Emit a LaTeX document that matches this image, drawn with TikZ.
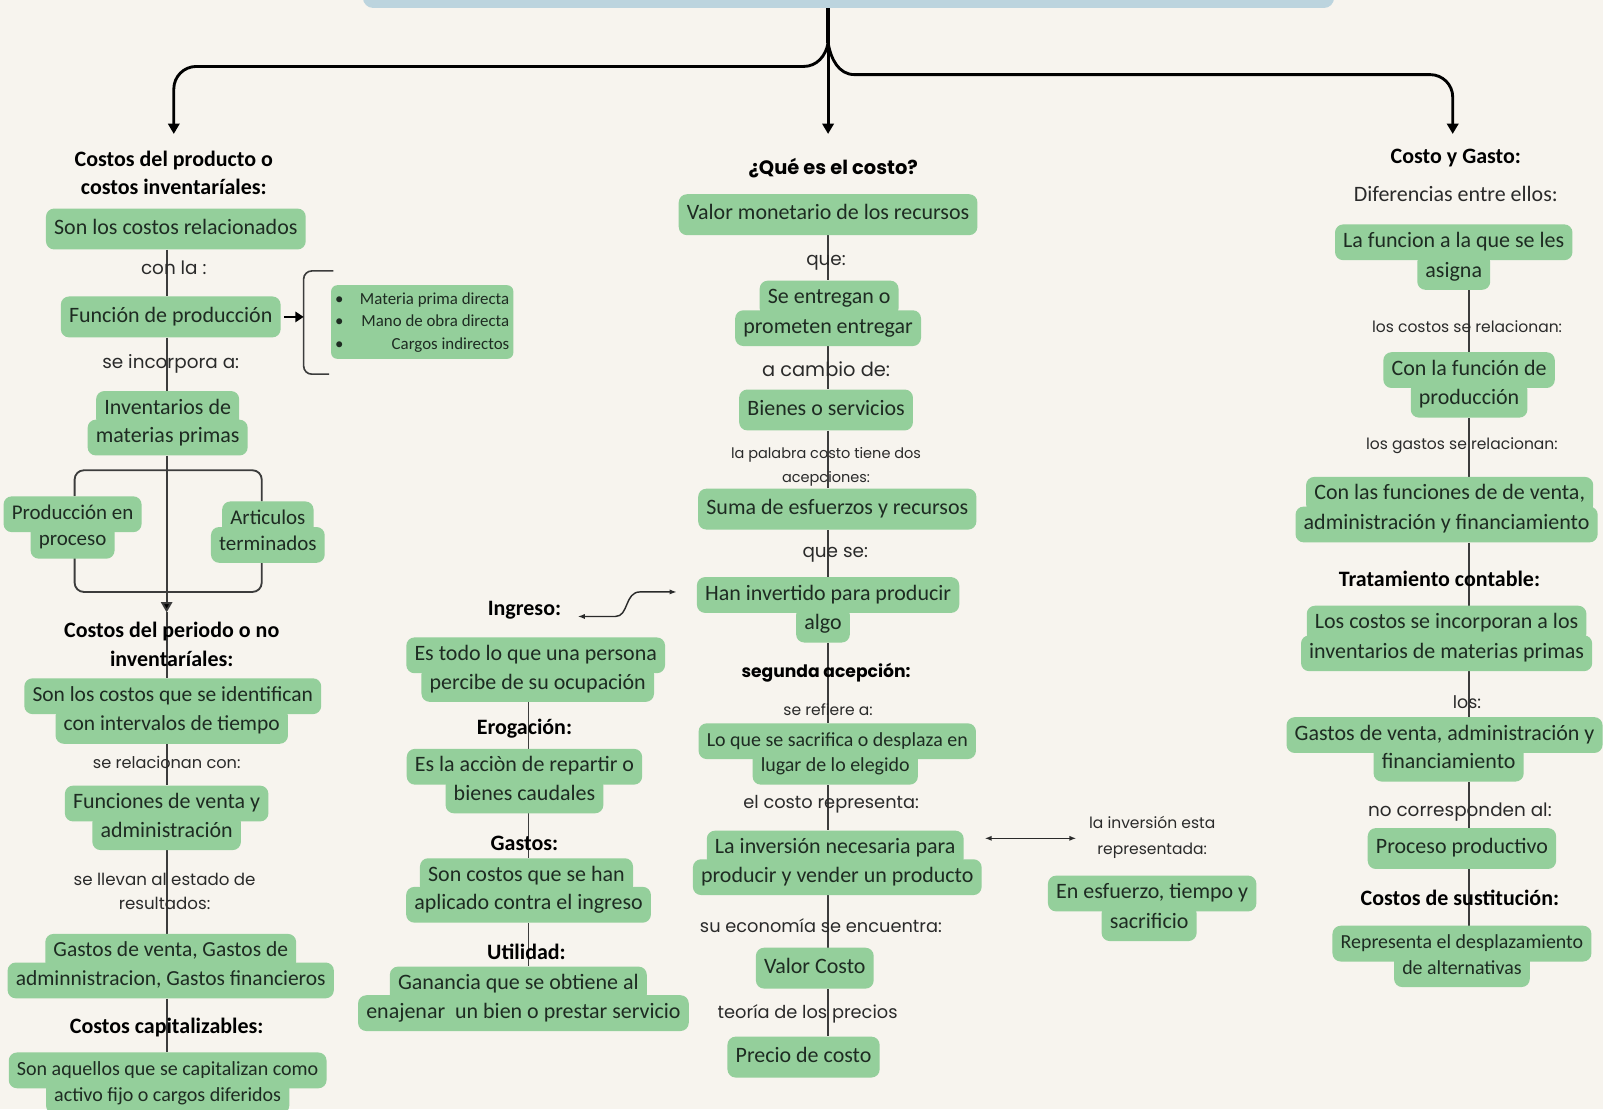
\documentclass[tikz,border=0pt]{standalone}
\usepackage{fontspec}
\setmainfont{Carlito}
\newfontfamily\pop{Poppins}
\usetikzlibrary{arrows.meta}
\definecolor{bgc}{HTML}{F7F4EE}
\definecolor{gr}{HTML}{94CF9B}
\definecolor{barb}{HTML}{BCD4DE}
\definecolor{ink}{HTML}{2A2A2A}
\definecolor{txt}{HTML}{1E2B22}
\definecolor{lc}{HTML}{3C3C3C}
\pgfdeclarelayer{bg}
\pgfsetlayers{bg,main}
\tikzset{
  bx/.style={fill=gr, rounded corners=8pt, inner xsep=8pt, inner ysep=0pt, minimum height=40pt,
    text height=15pt, text depth=5pt, font=\fontsize{21.5}{24}\selectfont, text=txt},
  bl/.style={bx, minimum height=35pt},
  bfs/.style={font=\fontsize{#1}{#1}\selectfont},
  lab/.style={font=\pop\fontsize{#1}{#1}\selectfont, text=ink, inner sep=0pt, align=center},
  hd/.style={font=\bfseries\fontsize{21.5}{28}\selectfont, text=black, inner sep=0pt, align=center},
  hdp/.style={font=\pop\bfseries\fontsize{#1}{#1}\selectfont, text=black, inner sep=0pt, align=center},
  col/.style={draw=lc, line width=1.8pt},
  br/.style={draw=black, line width=2.8pt},
  tip/.style={-{Triangle[width=11pt,length=10pt]}},
  sa/.style={draw=ink, line width=1.4pt},
}
\begin{document}
\begin{tikzpicture}[x=1pt,y=-1pt]
\useasboundingbox (0,0) rectangle (1568,1085);
\begin{pgfonlayer}{bg}
\fill[bgc] (0,0) rectangle (1568,1085);
\end{pgfonlayer}

% title bar
\node[fill=barb, rounded corners=10pt, minimum width=950pt, minimum height=40pt, anchor=south, inner sep=0pt] (title) at (830,8) {};

% ---------- left column ----------
\node[hd] (h1) at (170,169) {Costos del producto o\\costos inventaríales:};
\node[bx] (son) at (172,224) {Son los costos relacionados};
\node[lab=18] (l1) at (170,262) {con la :};
\node[bx] (func) at (167,310) {Función de producción};
\node[fill=gr, rounded corners=6pt, inner xsep=4pt, inner ysep=3pt, font=\fontsize{16.5}{22}\selectfont, text=txt] (list) at (413,315)
  {\begin{tabular}{@{}l@{\hspace{16pt}}r@{}}\textbullet & Materia prima directa\\ \textbullet & Mano de obra directa\\ \textbullet & Cargos indirectos\end{tabular}};
\node[lab=18] (l2) at (167,356) {se incorpora a:};
\node[bl] (inv1) at (164,400) {Inventarios de};
\node[bl] (inv2) at (164,428) {materias primas};
\node[bl,bfs=20.5] (prod1) at (71,503) {Producción en};
\node[bl,bfs=20.5] (prod2) at (71,529) {proceso};
\node[bl,bfs=20.5] (art1) at (262,508) {Articulos};
\node[bl,bfs=20.5] (art2) at (262,533) {terminados};
\node[hd] (h2) at (168,630) {Costos del periodo o no\\inventaríales:};
\node[bl,bfs=21] (id1) at (169,681) {Son los costos que se identifican};
\node[bl,bfs=21] (id2) at (168,710) {con intervalos de tiempo};
\node[lab=15.8] (l3) at (163,746) {se relacionan con:};
\node[bl] (fv1) at (163,786) {Funciones de venta y};
\node[bl] (fv2) at (163,814) {administración};
\node[lab=16.3] (l4) at (161,872) {se llevan al estado de\\[7.7pt]resultados:};
\node[bl,bfs=21] (gv1) at (167,931) {Gastos de venta, Gastos de};
\node[bl,bfs=21] (gv2) at (167,959) {adminnistracion, Gastos financieros};
\node[hd] (h3) at (163,1005) {Costos capitalizables:};
\node[bl,bfs=19.6] (cap1) at (164,1047) {Son aquellos que se capitalizan como};
\node[bl,bfs=19.6] (cap2) at (164,1072) {activo fijo o cargos diferidos};

% ---------- middle-left column ----------
\node[hd] (h4) at (513,597) {Ingreso:};
\node[bl] (pe1) at (524,641) {Es todo lo que una persona};
\node[bl] (pe2) at (526,669) {percibe de su ocupación};
\node[hd] (h5) at (513,713) {Erogación:};
\node[bl] (ac1) at (513,750) {Es la acciòn de repartir o};
\node[bl] (ac2) at (513,778) {bienes caudales};
\node[hd] (h6) at (513,825) {Gastos:};
\node[bl] (sc1) at (515,857) {Son costos que se han};
\node[bl] (sc2) at (517,885) {aplicado contra el ingreso};
\node[hd] (h7) at (515,931) {Utilidad:};
\node[bl] (ga1) at (507,963) {Ganancia que se obtiene al};
\node[bl] (ga2) at (512,991) {enajenar\ \ un bien o prestar servicio};

% ---------- center column ----------
\node[hdp=19] (h8) at (815,164) {¿Qué es el costo?};
\node[bx] (va) at (810,210) {Valor monetario de los recursos};
\node[lab=18] (l5) at (808,257) {que:};
\node[bl] (en1) at (811,292) {Se entregan o};
\node[bl] (en2) at (810,321) {prometen entregar};
\node[lab=19] (l6) at (808,361) {a cambio de:};
\node[bx] (bi) at (808,401) {Bienes o servicios};
\node[lab=14.2] (l7) at (808,457) {la palabra costo tiene dos\\[7.8pt]acepciones:};
\node[bx] (su) at (819,498) {Suma de esfuerzos y recursos};
\node[lab=18] (l8) at (817,543) {que se:};
\node[bl] (ha1) at (810,582) {Han invertido para producir};
\node[bl] (ha2) at (805,611) {algo};
\node[hdp=16.8] (h9) at (808,658) {segunda acepción:};
\node[lab=15.2] (l9) at (810,694) {se refiere a:};
\node[bl,bfs=19.5] (lo1) at (819,725) {Lo que se sacrifica o desplaza en};
\node[bl,bfs=19.5] (lo2) at (817,750) {lugar de lo elegido};
\node[lab=17.4] (l10) at (813,787) {el costo representa:};
\node[bl] (in1) at (817,830) {La inversión necesaria para};
\node[bl] (in2) at (819,858) {producir y vender un producto};
\node[lab=15.2] (l11) at (1127,819) {la inversión esta\\[9.8pt]representada:};
\node[bl] (es1) at (1127,874) {En esfuerzo, tiempo y};
\node[bl] (es2) at (1124,903) {sacrificio};
\node[lab=17.4] (l12) at (803,905) {su economía se encuentra:};
\node[bx] (vc) at (797,947) {Valor Costo};
\node[lab=17.4] (l13) at (790,992) {teoría de los precios};
\node[bx] (pc) at (786,1034) {Precio de costo};

% ---------- right column ----------
\node[hd] (h10) at (1424,155) {Costo y Gasto:};
\node[font=\fontsize{21.5}{21.5}\selectfont, text=ink, inner sep=0pt] (dif) at (1424,190) {Diferencias entre ellos:};
\node[bl] (lf1) at (1422,237) {La funcion a la que se les};
\node[bl] (lf2) at (1422,266) {asigna};
\node[lab=15.2] (l14) at (1435,320) {los costos se relacionan:};
\node[bl] (cf1) at (1437,362) {Con la función de};
\node[bl] (cf2) at (1437,391) {producción};
\node[lab=15.2] (l15) at (1430,436) {los gastos se relacionan:};
\node[bl] (cv1) at (1418,484) {Con las funciones de de venta,};
\node[bl] (cv2) at (1415,513) {administración y financiamiento};
\node[hd] (h11) at (1408,566) {Tratamiento contable:};
\node[bl] (li1) at (1415,610) {Los costos se incorporan a los};
\node[bl] (li2) at (1415,639) {inventarios de materias primas};
\node[lab=17] (l16) at (1435,687) {los:};
\node[bl] (gw1) at (1413,719) {Gastos de venta, administración y};
\node[bl] (gw2) at (1417,747) {financiamiento};
\node[lab=18] (l17) at (1428,794) {no corresponden al:};
\node[bx] (pp) at (1430,830) {Proceso productivo};
\node[hd] (h12) at (1428,878) {Costos de sustitución:};
\node[bl,bfs=19.5] (re1) at (1430,923) {Representa el desplazamiento};
\node[bl,bfs=19.5] (re2) at (1430,948) {de alternativas};

% ---------- connectors ----------
\coordinate (cL) at (163,0);
\coordinate (cM) at (517,0);
\coordinate (cC) at (810,0);
\coordinate (cR) at (1437,0);
\coordinate (jn) at (810,42);
\coordinate (tipL) at (170,131);
\coordinate (tipC) at (810,131);
\coordinate (tipR) at (1421,131);
\coordinate (tipA) at (163,599);
\coordinate (bL) at (73,0);
\coordinate (bR) at (256,0);
\coordinate (tb) at (0,460);
\coordinate (bb) at (0,579);
\coordinate (bk) at (297,313);
\coordinate (ia) at (565,603);
\coordinate (ib) at (662,579);
\coordinate (da) at (963,820);
\coordinate (db) at (1053,820);

\begin{pgfonlayer}{bg}
\draw[br, line width=4pt] (title.south -| jn) -- (jn);
\draw[br, tip] (jn) -- (tipC);
\draw[br, tip] (jn) to[out=-100,in=0] (786,65) [rounded corners=22pt] -- (170,65) -- (tipL);
\draw[br, tip] (jn) to[out=-80,in=180] (836,73) [rounded corners=22pt] -- (1421,73) -- (tipR);

\foreach \a/\b in {son/func, func/inv1, id2/fv1, fv2/gv1, gv2/cap1}
  \draw[col] (\a.south -| cL) -- (\b.north -| cL);
\draw[col, -{Triangle[width=11pt,length=10pt,fill=black]}] (inv2.south -| cL) -- (tipA);
\draw[col] (tipA) -- (id1.north -| cL);
\foreach \a/\b in {pe2/ac1, ac2/sc1, sc2/ga1}
  \draw[col] (\a.south -| cM) -- (\b.north -| cM);
\foreach \a/\b in {va/en1, en2/bi, bi/su, su/ha1, ha2/lo1, lo2/in1, in2/vc, vc/pc}
  \draw[col] (\a.south -| cC) -- (\b.north -| cC);
\foreach \a/\b in {lf2/cf1, cf2/cv1, cv2/li1, li2/gw1, gw2/pp, pp/re1}
  \draw[col] (\a.south -| cR) -- (\b.north -| cR);

% brackets
\draw[col, rounded corners=9pt] (prod1.north -| bL) -- (bL |- tb) -- (bR |- tb) -- (art1.north -| bR);
\draw[col, rounded corners=9pt] ([yshift=8pt]prod2.south -| bL) -- (bL |- bb) -- (bR |- bb) -- ([yshift=8pt]art2.south -| bR);
\draw[col, line width=1.6pt, rounded corners=8pt] (326,265) -- (297,265) -- (297,366) -- (322,366);
\draw[draw=black, line width=2.6pt, shorten <=3pt, -{Triangle[width=10pt,length=8pt]}] (func.east) -- (func.east -| bk);

% small arrows
\draw[sa, {Latex[length=7pt,width=5pt]}-{Latex[length=7pt,width=5pt]}] (ia) -- (602,603) .. controls (615,603) and (611,579) .. (626,579) -- (ib);
\draw[sa, {Latex[length=7pt,width=5pt]}-{Latex[length=7pt,width=5pt]}] (da) -- (db);
\end{pgfonlayer}
\end{tikzpicture}
\end{document}
